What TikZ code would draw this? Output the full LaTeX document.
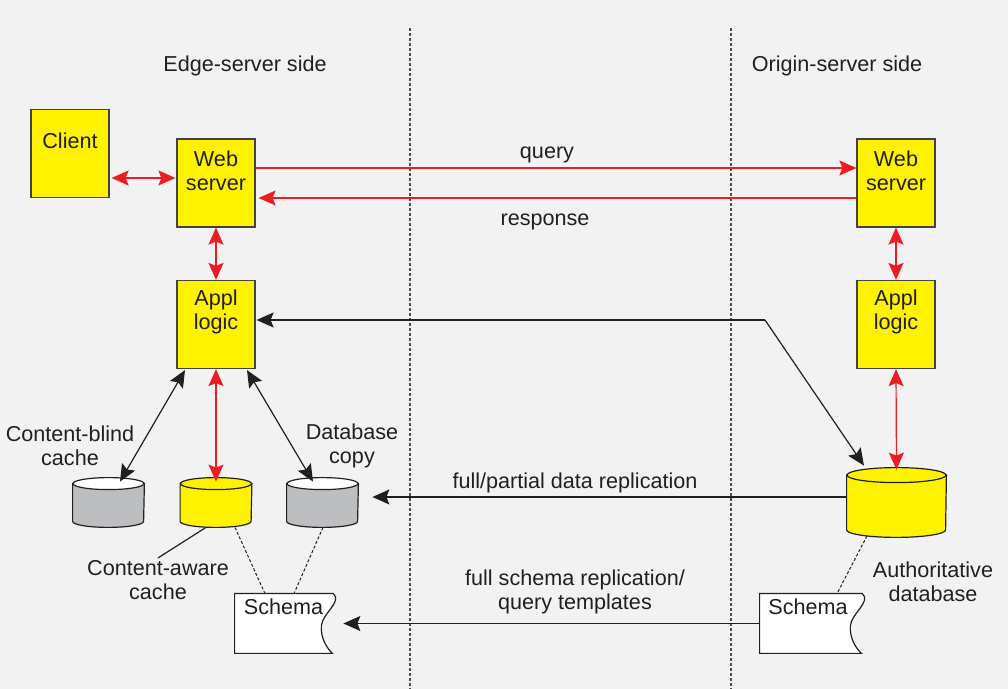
\documentclass[tikz,border=0pt]{standalone}
\usepackage{fontspec}
\setmainfont{Liberation Sans}
\usetikzlibrary{arrows.meta, positioning, calc}
\usepackage{xcolor}

\definecolor{boxyellow}{HTML}{FFF200}
\definecolor{linkred}{HTML}{ED1C24}
\definecolor{inkgray}{HTML}{231F20}
\definecolor{diskgray}{HTML}{BCBEC0}
\definecolor{paper}{HTML}{F2F2F2}

% disk: name, centre, width, height, ellipse radius, body fill, top fill
\newcommand{\dbdisk}[7]{%
  \node[minimum width=#3, minimum height=#4, inner sep=0pt] (#1) at (#2) {};
  \filldraw[fill=#6, draw=inkgray, line width=0.6pt]
    ([yshift=-#5]#1.north west) -- ([yshift=#5]#1.south west)
    arc[start angle=180, end angle=360, x radius=#3/2, y radius=#5]
    -- ([yshift=-#5]#1.north east) -- cycle;
  \filldraw[fill=#7, draw=inkgray, line width=0.6pt]
    ([yshift=-#5]#1.north) ellipse[x radius=#3/2, y radius=#5];
}
% document sheet: name, centre, width
\newcommand{\schemadoc}[3]{%
  \node[minimum width=#3, minimum height=29.5pt, inner sep=0pt] (#1) at (#2) {};
  \filldraw[fill=white, draw=inkgray, line width=0.6pt]
    (#1.north west) -- (#1.north east)
    .. controls ($(#1.north east)+(9,8)$) and ($(#1.north east)+(-11,20)$) .. ($(#1.north east)+(-12,32)$)
    .. controls ($(#1.north east)+(-13,44)$) and ($(#1.north east)+(-7,54)$) .. ($(#1.south east)+(-1,0)$)
    -- (#1.south west) -- cycle;
}

\begin{document}
\begin{tikzpicture}[
    x=0.5pt, y=-0.5pt,
    font=\fontsize{10.8}{12}\selectfont,
    bigtip/.tip={Stealth[length=8.5pt, width=7.5pt, inset=1.5pt]},
    box/.style={draw=inkgray!85, fill=boxyellow, line width=0.6pt, minimum width=39pt, minimum height=44pt, inner sep=0pt},
    lbl/.style={align=center, inner sep=1pt, text=inkgray},
    redarrow/.style={-bigtip, linkred, line width=0.6pt},
    redboth/.style={bigtip-bigtip, linkred, line width=0.6pt},
    blkarrow/.style={-bigtip, inkgray, line width=0.6pt},
    blkboth/.style={bigtip-bigtip, inkgray, line width=0.6pt},
    divider/.style={draw=inkgray!80, line width=0.6pt, dash pattern=on 1.5pt off 1pt},
    link/.style={draw=inkgray, line width=0.5pt, dash pattern=on 1.5pt off 1pt}
]

\fill[paper] (0,0) rectangle (1008,689);
\useasboundingbox (0,0) rectangle (1008,689);

% the two sides
\coordinate (div1top) at (410,28);
\coordinate (div1bot) at (410,689);
\coordinate (div2top) at (731,28);
\coordinate (div2bot) at (731,689);
\draw[divider] (div1top) -- (div1bot);
\draw[divider] (div2top) -- (div2bot);
\node[lbl] (edgehead) at (245,66) {Edge-server side};
\node[lbl] (originhead) at (837,66) {Origin-server side};

% edge side boxes
\node[box] (client) at (70,153.5) {};
\node[lbl] (clienttxt) at (70,141) {Client};
\node[box] (webL) at (216,183) {};
\node[lbl] (webLtxt) at (216,170.5) {Web\\server};
\node[box] (applL) at (216,324.5) {};
\node[lbl] (applLtxt) at (216,312) {Appl\\logic};

% origin side boxes
\node[box] (webR) at (896,183) {};
\node[lbl] (webRtxt) at (896,170.5) {Web\\server};
\node[box] (applR) at (896,324.5) {};
\node[lbl] (applRtxt) at (896,312) {Appl\\logic};

% databases
\dbdisk{cblind}{108.5,502.5}{35.5pt}{24.5pt}{3pt}{diskgray}{white}
\dbdisk{caware}{216,502.5}{35.5pt}{24.5pt}{3pt}{boxyellow}{boxyellow}
\dbdisk{dbcopy}{322.5,502.5}{35.5pt}{24.5pt}{3pt}{diskgray}{white}
\dbdisk{auth}{896.5,502.5}{49.5pt}{34.5pt}{3.75pt}{boxyellow}{boxyellow}

\node[lbl] (cblindtxt) at (70,445.5) {Content-blind\\cache};
\node[lbl] (cawaretxt) at (158,580) {Content-aware\\cache};
\node[lbl] (dbcopytxt) at (352,446) {Database\\copy};
\node[lbl] (authtxt) at (933,582) {Authoritative\\database};

% schema sheets
\schemadoc{schemaL}{284,623.5}{49pt}
\node[lbl] (schemaLtxt) at (283.5,607) {Schema};
\schemadoc{schemaR}{811,623.5}{51pt}
\node[lbl] (schemaRtxt) at (808,607) {Schema};

% texts between the sides
\node[lbl] (querytxt) at (547,155) {query};
\node[lbl] (resptxt) at (545,222) {response};
\node[lbl] (repltxt) at (575,483) {full/partial data replication};
\node[lbl] (schematxt) at (575,591.5) {full schema replication/\\query templates};

% red links
\draw[redboth] ($(client.east)+(2,24.5)$) -- ($(webL.west)+(-1,-5)$);
\draw[redarrow] ($(webL.east)+(0,-15)$) -- ($(webR.west)+(0,-15)$);
\draw[redarrow] ($(webR.west)+(0,15)$) -- ($(webL.east)+(3,15)$);
\draw[redboth] (webL.south) -- (applL.north);
\draw[redboth] (webR.south) -- (applR.north);
\draw[redboth] (applR.south) -- ($(auth.north)+(0,2)$);
\draw[redboth] (applL.south) -- ($(caware.north)+(0,4)$);

% black links
\draw[blkboth] ($(applL.south)+(-31,1)$) -- ($(cblind.north)+(11.5,4)$);
\draw[blkboth] ($(applL.south)+(31,1)$) -- ($(dbcopy.north)+(-9.5,4)$);
\coordinate (bend) at (765,320);
\draw[blkarrow] (bend) -- ($(applL.east)+(1,-4.5)$);
\draw[blkarrow] (bend) -- ($(auth.north)+(-32.5,-2)$);
\draw[blkarrow] ($(auth.west)+(0,-5.5)$) -- ($(dbcopy.east)+(14,-5.5)$);
\draw[blkarrow] (schemaR.west) -- ($(schemaL.east)+(10,0)$);

% dotted ties to the schema
\draw[link] ($(caware.south)+(19,0)$) -- ($(schemaL.north)+(-19,0)$);
\draw[link] ($(dbcopy.south)+(0.5,0)$) -- ($(schemaL.north)+(10,0)$);
\draw[link] ($(auth.south)+(-29.5,-1.5)$) -- ($(schemaR.north)+(26,0)$);
\draw[inkgray, line width=0.6pt] ($(caware.south)+(-10,0)$) -- (cawaretxt.north);

\end{tikzpicture}
\end{document}
